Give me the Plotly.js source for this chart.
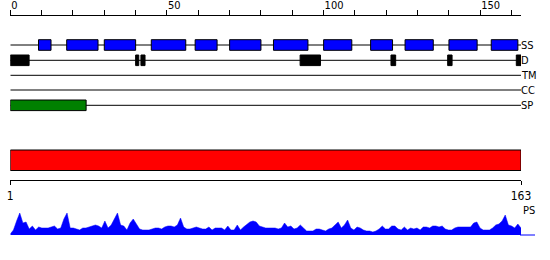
<!DOCTYPE html>
<html>
<head>
<meta charset="utf-8">
<script src="https://cdn.plot.ly/plotly-3.0.1.min.js"></script>
<style>html,body{margin:0;padding:0;background:#fff}#chart{width:550px;height:260px}</style>
</head>
<body>
<div id="chart"></div>
<script>
// ---- data ----
var seqLength = 163;
var trackNames = ["SS", "D", "TM", "CC", "SP"];
var ssStart = [9, 18, 30, 45, 59, 70, 84, 100, 115, 126, 140, 153.5];
var ssEnd   = [13, 28, 40, 56, 66, 80, 95, 109, 122, 135, 149, 162];
var dStart  = [0, 40, 41.7, 92.5, 121.5, 139.6, 161.5];
var dEnd    = [6, 41, 43, 99, 123, 141, 163];
var tmStart = [];
var tmEnd   = [];
var ccStart = [];
var ccEnd   = [];
var spStart = [0];
var spEnd   = [24.2];
var regionStart = [0];
var regionEnd   = [163];
var topTickVals = [0, 50, 100, 150];
var rulerTickVals = [1, 163];
var rulerTickText = ["1", "163"];
var profileLabel = "PS";
var psValues = [
  1, 5, 14, 22, 12, 13, 6, 9, 5, 8,
  7, 7, 7, 8, 9, 6, 7, 16, 22, 7,
  7, 6, 5, 7, 7, 8, 9, 10, 9, 7,
  14, 7, 10, 16, 22, 10, 9, 5, 12, 16,
  11, 6, 5, 5, 5, 6, 7, 7, 6, 8,
  9, 9, 8, 10, 17, 8, 6, 6, 7, 8,
  7, 6, 6, 8, 5, 7, 7, 7, 5, 9,
  5, 5, 10, 5, 8, 11, 13, 14, 13, 9,
  8, 7, 7, 7, 7, 6, 7, 12, 8, 9,
  6, 7, 10, 7, 4, 4, 4, 6, 6, 5,
  4, 6, 7, 10, 13, 7, 10, 15, 7, 5,
  8, 7, 5, 4, 4, 3, 4, 6, 9, 6,
  6, 9, 9, 6, 5, 8, 5, 7, 6, 7,
  5, 8, 8, 7, 9, 9, 8, 9, 6, 5,
  5, 7, 8, 8, 8, 8, 8, 12, 13, 7,
  5, 5, 5, 7, 10, 11, 14, 20, 10, 9,
  7, 11, 7
];
var psX = psValues.map(function (v, i) { return i + 1; });

// ---- layout ----
var W = 550, H = 260;
var x0px = 10.3, x1px = 521;
var trackY = [45, 60.3, 75.3, 90, 105.3];
var boxHalf = 5.3;
var font = "DejaVu Sans Condensed, DejaVu Sans, sans-serif";

var shapes = [];
// track lines
trackY.forEach(function (y) {
  shapes.push({type: "line", xref: "x", yref: "y", x0: 0, x1: seqLength, y0: y, y1: y,
    line: {color: "#000", width: 1}, layer: "below"});
});
function boxes(starts, ends, y, color, half) {
  for (var i = 0; i < starts.length; i++) {
    shapes.push({type: "rect", xref: "x", yref: "y", x0: starts[i], x1: ends[i],
      y0: y - half, y1: y + half, fillcolor: color, line: {color: "#000", width: 1}});
  }
}
boxes(ssStart, ssEnd, trackY[0], "#0000ff", boxHalf);
boxes(dStart, dEnd, trackY[1], "#000000", boxHalf);
boxes(tmStart, tmEnd, trackY[2], "#000000", boxHalf);
boxes(ccStart, ccEnd, trackY[3], "#000000", boxHalf);
boxes(spStart, spEnd, trackY[4], "#008000", boxHalf);
// region bar
for (var r = 0; r < regionStart.length; r++) {
  shapes.push({type: "rect", xref: "x", yref: "y", x0: regionStart[r], x1: regionEnd[r],
    y0: 150, y1: 170.5, fillcolor: "#ff0000", line: {color: "#000", width: 1}});
}
// profile baseline tail
shapes.push({type: "line", xref: "paper", yref: "y", x0: 520 / W, x1: 535 / W, y0: 235, y1: 235,
  line: {color: "#0000ff", width: 1}});

var annotations = trackNames.map(function (n, i) {
  return {xref: "paper", yref: "y", x: 520 / W, y: trackY[i], text: n, showarrow: false,
    xanchor: "left", yanchor: "middle", font: {family: font, size: 11, color: "#000"},
    xshift: -1};
});
annotations.push({xref: "paper", yref: "y", x: 521 / W, y: 210, text: profileLabel, showarrow: false,
  xanchor: "left", yanchor: "middle", font: {family: font, size: 11, color: "#000"}});

var traces = [{
  type: "scatter", mode: "lines", x: psX, y: psValues, xaxis: "x2", yaxis: "y2",
  fill: "tozeroy", fillcolor: "#0000ff", line: {color: "#0000ff", width: 0.5},
  hoverinfo: "skip", showlegend: false
}, {
  type: "scatter", mode: "markers", x: [0], y: [0], xaxis: "x", yaxis: "y",
  marker: {opacity: 0}, hoverinfo: "skip", showlegend: false
}];

var dom = [x0px / W, x1px / W];
var layout = {
  width: W, height: H,
  margin: {l: 0, r: 0, t: 0, b: 0, pad: 0},
  paper_bgcolor: "#fff", plot_bgcolor: "rgba(0,0,0,0)",
  showlegend: false,
  font: {family: font, color: "#000"},
  xaxis: {
    domain: dom, range: [0, seqLength], anchor: "free", position: 1 - 14.7 / H, side: "top",
    showline: true, linecolor: "#000", linewidth: 1, showgrid: false, zeroline: false,
    ticks: "outside", ticklen: 5, tickcolor: "#000", tickwidth: 1,
    tickmode: "array", tickvals: topTickVals,
    ticklabelposition: "outside right", ticklabelstandoff: 1,
    tickfont: {family: font, size: 11, color: "#000"},
    minor: {dtick: 10, tick0: 0, ticks: "outside", ticklen: 5, tickcolor: "#000", tickwidth: 1, showgrid: false},
    fixedrange: true
  },
  yaxis: {domain: [0, 1], range: [H, 0], visible: false, anchor: "x", fixedrange: true},
  xaxis2: {
    domain: dom, range: [1, seqLength], anchor: "free", position: 1 - 180.3 / H, side: "bottom",
    showline: true, linecolor: "#000", linewidth: 1, showgrid: false, zeroline: false,
    ticks: "outside", ticklen: 4, tickcolor: "#000", tickwidth: 1,
    tickmode: "array", tickvals: rulerTickVals, ticktext: rulerTickText,
    tickfont: {family: font, size: 12, color: "#000"}, fixedrange: true
  },
  yaxis2: {domain: [1 - 235 / H, 1 - 205 / H], range: [0, 30], visible: false, anchor: "x2", fixedrange: true},
  shapes: shapes,
  annotations: annotations
};

Plotly.newPlot("chart", traces, layout, {staticPlot: true, displayModeBar: false});
</script>
</body>
</html>
